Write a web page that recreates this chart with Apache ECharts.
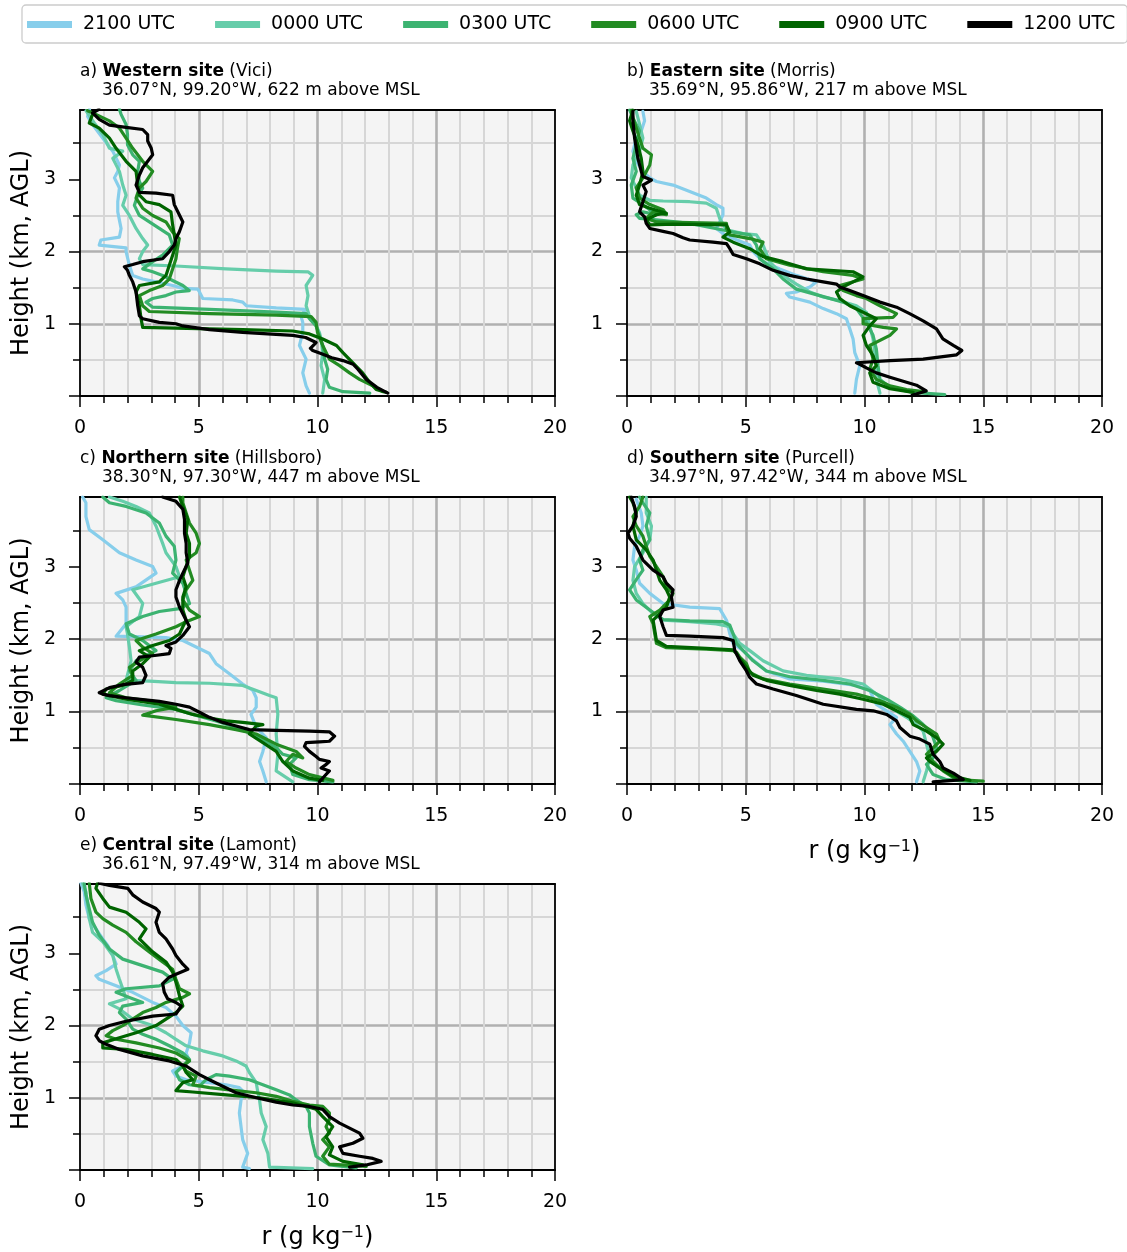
<!DOCTYPE html>
<html>
<head>
<meta charset="utf-8">
<title>Mixing ratio profiles</title>
<script src="https://cdn.jsdelivr.net/npm/echarts@6/dist/echarts.min.js"></script>
<style>
  html, body { margin: 0; padding: 0; background: #fff; }
  #chart { width: 1127px; height: 1252px; }
</style>
</head>
<body>
<div id="chart"></div>
<script>
const FONT = 'DejaVu Sans';

const times = ['2100 UTC', '0000 UTC', '0300 UTC', '0600 UTC', '0900 UTC', '1200 UTC'];
const timeColors = ['#87ceeb', '#66cdaa', '#3cb371', '#228b22', '#006400', '#000000'];

const panelLetters = ['a)', 'b)', 'c)', 'd)', 'e)'];
const siteNames = ['Western site', 'Eastern site', 'Northern site', 'Southern site', 'Central site'];
const siteTowns = ['Vici', 'Morris', 'Hillsboro', 'Purcell', 'Lamont'];
const siteInfo = [
  '36.07°N, 99.20°W, 622 m above MSL',
  '35.69°N, 95.86°W, 217 m above MSL',
  '38.30°N, 97.30°W, 447 m above MSL',
  '34.97°N, 97.42°W, 344 m above MSL',
  '36.61°N, 97.49°W, 314 m above MSL'
];

const rMin = 0, rMax = 20, rStep = 5;
const hMin = 0, hMax = 3.96, hStep = 1;
const hLabels = [1, 2, 3];

// profiles: [r (g/kg), height (km AGL)]
const vici2100 = [[9.66,0.04],[9.52,0.14],[9.38,0.32],[9.52,0.51],[9.24,0.7],[9.38,0.88],[9.38,1.02],[9.3,1.11],[9.5,1.2],[8.26,1.22],[7.0,1.25],[6.85,1.3],[6.43,1.33],[5.17,1.35],[5.03,1.44],[4.96,1.48],[4.33,1.49],[3.9,1.53],[3.2,1.58],[2.64,1.62],[2.22,1.67],[2.08,1.81],[1.94,2.0],[1.94,2.05],[0.81,2.09],[0.88,2.16],[1.66,2.2],[1.73,2.32],[1.59,2.55],[1.59,2.69],[1.66,2.88],[1.45,3.02],[1.59,3.11],[1.66,3.2],[1.38,3.39],[0.96,3.57],[0.53,3.76],[0.32,3.87],[0.4,3.97]];
const vici0000 = [[10.22,0.04],[10.3,0.23],[10.15,0.42],[10.22,0.6],[10.15,0.79],[10.08,0.88],[9.87,1.02],[9.66,1.11],[9.52,1.25],[9.6,1.39],[9.52,1.53],[9.8,1.67],[9.6,1.72],[8.26,1.73],[6.15,1.76],[4.04,1.8],[2.64,1.82],[2.5,1.9],[2.64,2.0],[2.85,2.09],[2.64,2.18],[2.36,2.32],[2.08,2.5],[1.8,2.64],[1.94,2.78],[1.8,2.92],[1.66,3.11],[1.38,3.29],[1.8,3.39],[1.24,3.43],[0.96,3.62],[0.6,3.78],[0.25,3.95]];
const vici0300 = [[12.2,0.04],[11.07,0.06],[10.5,0.12],[10.36,0.23],[10.43,0.37],[10.3,0.51],[10.22,0.7],[10.08,0.84],[9.94,0.97],[9.66,1.07],[9.52,1.14],[8.26,1.16],[5.45,1.2],[3.06,1.23],[2.78,1.3],[3.06,1.35],[3.62,1.39],[4.04,1.44],[4.6,1.46],[4.33,1.53],[3.9,1.6],[3.48,1.67],[3.06,1.72],[2.64,1.76],[3.06,1.86],[3.48,1.95],[3.9,2.09],[3.76,2.23],[3.34,2.32],[2.92,2.41],[2.5,2.5],[2.29,2.64],[2.43,2.78],[2.64,2.88],[2.5,2.97],[2.43,3.11],[2.5,3.25],[2.22,3.34],[2.0,3.48],[2.0,3.62],[1.94,3.76],[1.73,3.9],[1.66,3.97]];
const vici0600 = [[12.75,0.06],[12.33,0.14],[11.77,0.23],[11.35,0.32],[10.93,0.42],[10.5,0.51],[10.22,0.7],[10.0,0.88],[9.94,1.02],[9.73,1.1],[8.26,1.12],[5.45,1.14],[2.92,1.17],[2.64,1.25],[2.5,1.39],[2.92,1.46],[3.48,1.53],[3.76,1.62],[3.9,1.76],[4.04,1.9],[4.1,2.04],[4.18,2.18],[3.9,2.27],[3.62,2.41],[3.06,2.5],[2.64,2.6],[2.36,2.74],[2.5,2.88],[2.78,2.97],[3.06,3.11],[2.64,3.25],[2.22,3.43],[1.94,3.57],[1.66,3.71],[1.24,3.81],[0.67,3.9],[0.32,3.95]];
const vici0900 = [[12.9,0.05],[12.47,0.09],[12.19,0.19],[11.9,0.32],[11.49,0.46],[11.07,0.6],[10.8,0.7],[10.22,0.79],[9.66,0.86],[8.96,0.9],[6.85,0.92],[4.04,0.94],[2.64,0.95],[2.57,1.07],[2.5,1.25],[2.36,1.44],[2.5,1.53],[3.34,1.58],[3.62,1.67],[3.76,1.81],[3.9,1.95],[4.04,2.09],[3.97,2.23],[3.9,2.37],[3.83,2.55],[3.34,2.65],[2.78,2.69],[2.5,2.78],[2.43,2.92],[2.36,3.11],[1.94,3.25],[1.52,3.43],[1.24,3.57],[0.81,3.71],[0.39,3.78],[0.53,3.9]];
const vici1200 = [[12.96,0.04],[12.5,0.12],[12.05,0.23],[11.7,0.37],[11.5,0.44],[11.07,0.49],[10.6,0.53],[10.2,0.58],[9.8,0.63],[9.7,0.66],[9.94,0.74],[9.5,0.81],[8.96,0.84],[6.85,0.88],[5.45,0.92],[4.33,0.97],[4.04,1.0],[3.34,1.02],[2.64,1.07],[2.5,1.11],[2.43,1.25],[2.36,1.44],[2.22,1.58],[2.08,1.67],[2.0,1.74],[1.87,1.79],[2.22,1.82],[2.64,1.86],[3.48,1.9],[3.76,2.0],[3.97,2.09],[4.04,2.18],[4.18,2.27],[4.33,2.41],[4.18,2.51],[3.97,2.65],[3.9,2.78],[3.2,2.81],[2.5,2.82],[2.36,2.92],[2.5,3.06],[2.64,3.16],[2.85,3.25],[3.06,3.34],[3.0,3.43],[2.85,3.53],[2.85,3.62],[2.64,3.69],[1.94,3.72],[1.24,3.75],[0.81,3.83],[0.53,3.92],[0.8,3.97]];

const morris2100 = [[9.59,0.04],[9.66,0.23],[9.8,0.42],[9.59,0.6],[9.52,0.79],[9.38,0.93],[9.24,1.07],[8.82,1.14],[8.26,1.21],[7.7,1.3],[6.85,1.37],[6.71,1.42],[7.13,1.44],[7.7,1.51],[7.97,1.58],[7.13,1.67],[6.43,1.76],[5.73,1.86],[5.31,2.0],[5.17,2.09],[4.47,2.18],[4.04,2.25],[3.76,2.32],[3.9,2.41],[4.04,2.51],[4.04,2.6],[3.76,2.65],[3.34,2.74],[2.64,2.83],[1.94,2.92],[1.24,2.97],[0.96,3.02],[0.67,3.11],[0.39,3.25],[0.25,3.39],[0.39,3.57],[0.6,3.67],[0.74,3.81],[0.67,3.94]];
const morris0000 = [[10.65,0.04],[10.5,0.23],[10.5,0.42],[10.43,0.6],[10.36,0.79],[10.22,0.97],[10.08,1.16],[9.66,1.25],[8.96,1.32],[8.26,1.37],[7.7,1.44],[7.13,1.55],[6.57,1.67],[6.0,1.86],[5.73,2.09],[5.45,2.23],[4.89,2.25],[4.19,2.3],[3.9,2.46],[3.76,2.6],[3.34,2.67],[2.64,2.69],[1.52,2.7],[0.96,2.71],[0.53,2.78],[0.39,2.88],[0.18,3.02],[0.25,3.2],[0.53,3.39],[0.67,3.57],[0.53,3.76],[0.39,3.94]];
const morris0300 = [[13.38,0.02],[12.05,0.05],[11.07,0.12],[10.65,0.23],[10.57,0.42],[10.5,0.65],[10.36,0.84],[10.08,1.02],[9.66,1.21],[9.1,1.3],[8.12,1.39],[7.13,1.48],[6.57,1.62],[6.15,1.76],[5.59,1.9],[5.45,2.09],[5.17,2.23],[4.47,2.27],[2.64,2.39],[1.24,2.44],[0.53,2.46],[0.39,2.51],[0.67,2.55],[1.24,2.51],[0.67,2.65],[0.25,2.74],[0.18,2.92],[0.39,3.11],[0.25,3.29],[0.39,3.48],[0.53,3.67],[0.25,3.85],[0.11,3.96]];
const morris0600 = [[12.47,0.06],[11.77,0.09],[11.07,0.14],[10.5,0.23],[10.22,0.37],[10.36,0.51],[10.22,0.7],[11.07,0.84],[11.35,0.93],[10.79,0.95],[9.94,1.0],[9.94,1.07],[11.21,1.09],[11.35,1.14],[10.65,1.25],[10.08,1.35],[9.66,1.39],[9.1,1.46],[8.96,1.53],[9.94,1.62],[9.52,1.67],[8.26,1.72],[6.85,1.81],[5.87,1.9],[5.59,2.04],[5.73,2.13],[5.17,2.18],[4.33,2.23],[4.19,2.32],[4.19,2.39],[2.64,2.4],[1.24,2.41],[0.81,2.46],[1.1,2.55],[1.66,2.51],[1.52,2.58],[0.96,2.65],[0.53,2.74],[0.39,2.88],[0.67,3.02],[0.96,3.2],[1.03,3.34],[0.67,3.43],[0.53,3.57],[0.39,3.71],[0.25,3.85],[0.18,3.96]];
const morris0900 = [[12.05,0.05],[11.07,0.1],[10.36,0.19],[10.22,0.32],[10.5,0.42],[10.36,0.56],[10.08,0.7],[9.94,0.84],[10.22,0.97],[10.5,1.07],[9.94,1.16],[9.38,1.25],[8.96,1.35],[8.82,1.44],[9.1,1.51],[9.94,1.65],[9.52,1.72],[8.54,1.74],[7.56,1.76],[6.57,1.86],[5.73,1.93],[5.17,2.04],[4.47,2.13],[4.04,2.2],[4.33,2.27],[4.19,2.37],[1.94,2.38],[0.96,2.37],[0.81,2.44],[1.24,2.51],[1.66,2.53],[0.96,2.6],[0.53,2.65],[0.39,2.78],[0.53,2.92],[0.67,3.11],[0.6,3.29],[0.46,3.48],[0.25,3.67],[0.11,3.81],[0.25,3.96]];
const morris1200 = [[12.0,0.01],[12.6,0.07],[12.19,0.15],[11.77,0.19],[11.07,0.26],[10.5,0.32],[10.08,0.39],[9.8,0.44],[9.66,0.46],[11.07,0.49],[12.47,0.51],[13.88,0.57],[14.1,0.63],[13.74,0.7],[13.3,0.79],[13.03,0.93],[12.47,1.04],[11.9,1.14],[11.35,1.23],[10.65,1.3],[9.94,1.39],[9.38,1.46],[8.96,1.51],[8.82,1.55],[8.26,1.58],[7.56,1.62],[6.85,1.67],[6.15,1.74],[5.59,1.83],[5.03,1.9],[4.47,1.96],[4.33,2.04],[4.19,2.11],[3.62,2.13],[2.64,2.16],[2.36,2.19],[1.94,2.25],[1.52,2.28],[0.96,2.32],[0.81,2.39],[0.74,2.48],[0.53,2.55],[0.67,2.69],[0.81,2.83],[0.67,2.92],[1.03,2.99],[0.67,3.04],[0.6,3.11],[0.46,3.29],[0.32,3.57],[0.25,3.81],[0.25,3.94]];

const hills2100 = [[7.84,0.03],[7.7,0.18],[7.56,0.31],[7.7,0.45],[7.84,0.64],[7.42,0.78],[7.2,0.96],[7.42,1.06],[7.42,1.19],[7.28,1.29],[6.85,1.38],[6.29,1.52],[5.73,1.66],[5.45,1.8],[4.89,1.89],[4.33,1.98],[3.62,2.02],[2.64,2.03],[1.52,2.04],[1.94,2.21],[1.94,2.44],[1.8,2.54],[1.52,2.63],[2.36,2.72],[3.2,2.91],[3.06,3.0],[2.36,3.09],[1.66,3.19],[0.96,3.37],[0.39,3.51],[0.25,3.69],[0.25,3.88],[0.11,3.96]];
const hills0000 = [[8.96,0.03],[8.26,0.18],[8.33,0.41],[8.26,0.69],[8.33,0.96],[8.26,1.19],[7.98,1.22],[7.42,1.29],[6.85,1.36],[5.45,1.39],[4.04,1.4],[2.92,1.42],[1.94,1.43],[2.15,1.7],[2.08,1.89],[2.0,2.07],[1.94,2.17],[2.5,2.31],[2.64,2.49],[2.22,2.68],[3.2,2.77],[4.19,2.86],[4.04,3.0],[3.62,3.19],[3.48,3.32],[3.2,3.56],[2.92,3.74],[2.36,3.83],[1.8,3.9],[1.24,3.96]];
const hills0300 = [[10.65,0.03],[9.66,0.06],[8.96,0.13],[8.82,0.27],[9.1,0.36],[8.54,0.41],[8.26,0.5],[7.84,0.59],[7.28,0.69],[6.57,0.78],[5.73,0.87],[4.75,0.96],[4.04,1.03],[2.64,1.09],[1.52,1.15],[1.1,1.19],[1.66,1.29],[2.36,1.43],[2.08,1.56],[2.36,1.7],[3.2,1.84],[2.64,1.98],[2.08,2.07],[1.94,2.21],[2.64,2.31],[3.34,2.38],[4.19,2.42],[4.61,2.49],[4.47,2.63],[4.33,2.77],[3.9,2.91],[4.04,3.09],[3.97,3.28],[3.62,3.42],[3.34,3.6],[2.78,3.74],[1.94,3.83],[1.24,3.88],[0.96,3.96]];
const hills0600 = [[10.65,0.05],[9.66,0.13],[9.1,0.22],[8.68,0.31],[8.96,0.41],[9.38,0.36],[9.1,0.45],[8.26,0.55],[7.42,0.69],[6.57,0.75],[5.45,0.82],[4.04,0.89],[2.64,0.95],[3.2,1.01],[4.04,1.06],[3.34,1.13],[1.94,1.19],[1.24,1.26],[1.66,1.38],[2.22,1.5],[2.08,1.61],[2.5,1.7],[3.06,1.8],[2.64,1.89],[2.36,1.98],[3.2,2.07],[4.04,2.17],[4.47,2.24],[5.03,2.31],[4.61,2.4],[4.33,2.54],[4.47,2.68],[4.75,2.81],[4.61,2.95],[4.47,3.09],[4.89,3.19],[5.03,3.32],[4.89,3.46],[4.61,3.6],[4.47,3.74],[4.33,3.88],[4.33,3.96]];
const hills0900 = [[10.22,0.05],[9.66,0.08],[8.96,0.18],[8.54,0.31],[8.26,0.45],[7.7,0.57],[7.13,0.69],[7.42,0.8],[7.7,0.82],[6.85,0.85],[6.15,0.87],[5.45,0.91],[4.75,0.96],[4.04,1.03],[3.34,1.1],[1.94,1.17],[0.96,1.24],[1.1,1.31],[1.8,1.36],[2.22,1.43],[2.22,1.56],[2.64,1.66],[2.92,1.75],[2.5,1.84],[3.06,1.91],[3.76,1.98],[4.19,2.07],[4.33,2.17],[4.47,2.26],[4.33,2.4],[4.33,2.58],[4.47,2.72],[4.33,2.86],[4.47,3.0],[4.61,3.14],[4.61,3.32],[4.47,3.46],[4.54,3.65],[4.33,3.83],[4.19,3.96]];
const hills1200 = [[10.08,0.03],[10.3,0.11],[10.5,0.18],[10.15,0.22],[10.37,0.27],[10.5,0.31],[10.08,0.34],[9.94,0.38],[9.66,0.45],[9.45,0.52],[9.52,0.57],[10.08,0.58],[10.5,0.59],[10.72,0.66],[10.5,0.72],[9.66,0.73],[8.26,0.74],[7.13,0.75],[6.57,0.8],[6.01,0.85],[5.45,0.92],[5.03,0.99],[4.61,1.06],[4.04,1.1],[3.34,1.14],[1.94,1.19],[1.24,1.22],[0.96,1.24],[0.81,1.26],[1.24,1.33],[1.8,1.37],[2.64,1.4],[2.78,1.5],[2.64,1.61],[2.36,1.68],[2.5,1.75],[3.06,1.77],[3.76,1.8],[3.83,1.87],[3.62,1.91],[4.04,1.96],[4.33,2.05],[4.61,2.17],[4.47,2.26],[4.33,2.35],[4.19,2.44],[4.04,2.58],[4.04,2.68],[4.19,2.81],[4.33,2.91],[4.54,3.05],[4.47,3.19],[4.47,3.32],[4.4,3.46],[4.4,3.65],[4.33,3.79],[4.04,3.9],[3.48,3.96]];

const purcell2100 = [[12.19,0.03],[12.33,0.18],[12.19,0.31],[11.91,0.45],[11.63,0.59],[11.35,0.69],[11.07,0.82],[11.35,0.92],[10.93,1.01],[10.5,1.1],[10.22,1.29],[9.66,1.36],[8.26,1.42],[6.85,1.45],[5.87,1.56],[5.17,1.75],[4.89,1.84],[4.47,1.94],[4.33,2.07],[4.19,2.26],[3.9,2.42],[2.64,2.44],[1.52,2.49],[0.96,2.63],[0.53,2.77],[0.39,2.95],[0.25,3.09],[0.32,3.28],[0.53,3.42],[0.67,3.56],[0.6,3.74],[0.39,3.93]];
const purcell0000 = [[12.47,0.03],[12.61,0.18],[12.75,0.36],[12.61,0.55],[12.47,0.73],[12.19,0.82],[11.77,0.92],[11.07,1.06],[10.5,1.24],[9.94,1.38],[8.96,1.45],[7.56,1.5],[6.57,1.56],[5.73,1.7],[5.17,1.84],[4.75,1.94],[4.47,2.07],[4.33,2.17],[3.76,2.21],[2.64,2.24],[1.52,2.26],[1.1,2.35],[0.67,2.49],[0.39,2.63],[0.25,2.81],[0.32,3.0],[0.67,3.19],[0.96,3.37],[1.03,3.56],[0.81,3.74],[0.81,3.96]];
const purcell0300 = [[14.72,0.03],[13.46,0.06],[12.89,0.13],[12.61,0.27],[12.89,0.36],[13.03,0.5],[12.89,0.64],[12.75,0.73],[12.47,0.82],[12.05,0.94],[11.49,1.06],[10.93,1.17],[10.22,1.29],[9.38,1.38],[8.26,1.43],[6.85,1.48],[5.87,1.56],[5.31,1.7],[4.89,1.84],[4.61,1.94],[4.47,2.07],[4.33,2.19],[4.04,2.24],[2.64,2.25],[1.52,2.27],[0.96,2.4],[0.39,2.54],[0.11,2.68],[0.39,2.82],[0.67,2.95],[0.53,3.09],[0.67,3.23],[0.96,3.37],[0.81,3.56],[0.96,3.74],[0.67,3.88],[0.53,3.96]];
const purcell0600 = [[15.0,0.04],[13.88,0.06],[13.31,0.18],[12.89,0.31],[12.61,0.41],[12.89,0.5],[13.17,0.59],[13.03,0.69],[12.61,0.78],[12.19,0.87],[11.91,0.96],[11.35,1.06],[10.65,1.15],[9.66,1.24],[8.26,1.31],[6.85,1.38],[5.73,1.45],[5.17,1.54],[5.03,1.66],[4.75,1.75],[4.61,1.82],[4.47,1.84],[3.34,1.86],[1.66,1.88],[1.24,1.94],[1.17,2.07],[1.1,2.21],[0.96,2.31],[1.38,2.4],[1.8,2.54],[1.94,2.63],[1.66,2.72],[1.52,2.86],[1.24,3.0],[0.96,3.14],[0.81,3.28],[0.67,3.42],[0.39,3.56],[0.25,3.69],[0.53,3.83],[0.67,3.96]];
const purcell0900 = [[14.44,0.05],[13.74,0.11],[13.17,0.22],[12.75,0.31],[12.61,0.36],[13.03,0.45],[13.31,0.55],[13.03,0.64],[12.61,0.73],[12.05,0.82],[11.91,0.92],[11.35,1.01],[10.79,1.1],[9.94,1.17],[8.96,1.24],[7.98,1.29],[6.85,1.36],[5.87,1.43],[5.31,1.5],[5.03,1.61],[4.75,1.73],[4.61,1.8],[4.47,1.85],[3.34,1.87],[1.66,1.9],[1.24,1.98],[1.17,2.12],[1.1,2.26],[1.38,2.35],[1.66,2.44],[1.8,2.58],[1.66,2.68],[1.38,2.81],[1.24,2.95],[1.1,3.09],[0.81,3.23],[0.39,3.37],[0.25,3.56],[0.39,3.74],[0.25,3.88],[0.11,3.96]];
const purcell1200 = [[12.89,0.03],[14.16,0.06],[13.74,0.15],[13.31,0.22],[13.17,0.31],[12.89,0.41],[12.75,0.55],[12.33,0.62],[11.91,0.66],[11.49,0.78],[11.35,0.87],[10.93,0.96],[10.37,1.01],[9.66,1.03],[8.26,1.1],[7.13,1.22],[6.15,1.31],[5.45,1.38],[5.17,1.47],[5.03,1.56],[4.75,1.7],[4.54,1.84],[4.47,1.98],[4.04,2.02],[2.64,2.04],[1.66,2.05],[1.52,2.17],[1.38,2.31],[1.52,2.4],[1.94,2.44],[1.87,2.58],[1.94,2.68],[1.66,2.77],[1.52,2.86],[1.1,2.95],[0.67,3.09],[0.39,3.28],[0.11,3.39],[0.04,3.46],[0.25,3.56],[0.39,3.69],[0.32,3.83],[0.18,3.96]];

const lamont2100 = [[7.13,0.02],[6.85,0.04],[7.06,0.23],[6.85,0.42],[6.78,0.6],[6.71,0.79],[6.78,0.97],[6.92,1.07],[6.71,1.14],[6.15,1.18],[5.17,1.22],[4.47,1.25],[4.04,1.3],[3.9,1.37],[4.33,1.44],[4.61,1.51],[4.47,1.62],[4.61,1.76],[4.68,1.9],[4.33,2.0],[4.04,2.13],[3.62,2.25],[3.06,2.32],[2.64,2.39],[2.22,2.46],[1.52,2.55],[0.81,2.64],[0.67,2.69],[1.1,2.76],[1.52,2.85],[1.38,2.97],[1.17,3.11],[0.96,3.2],[0.67,3.34],[0.39,3.48],[0.25,3.67],[0.18,3.85],[0.04,3.97]];
const lamont0000 = [[9.8,0.02],[7.98,0.04],[7.91,0.23],[7.7,0.42],[7.84,0.6],[7.63,0.79],[7.56,0.97],[7.49,1.07],[7.42,1.21],[7.13,1.35],[6.99,1.44],[6.57,1.51],[6.01,1.58],[5.17,1.65],[4.47,1.72],[4.04,1.81],[3.62,1.9],[3.06,2.0],[2.22,2.09],[1.66,2.23],[1.24,2.3],[1.94,2.37],[1.8,2.51],[1.66,2.64],[1.52,2.78],[1.38,2.97],[0.96,3.16],[0.53,3.29],[0.39,3.48],[0.32,3.67],[0.25,3.85],[0.11,3.97]];
const lamont0300 = [[11.63,0.03],[10.5,0.07],[9.94,0.19],[9.8,0.37],[9.66,0.6],[9.66,0.79],[9.52,0.88],[9.1,0.97],[8.82,1.04],[8.26,1.11],[7.7,1.18],[7.13,1.25],[6.29,1.3],[5.73,1.32],[5.31,1.25],[5.03,1.16],[4.61,1.18],[4.19,1.25],[4.04,1.35],[4.33,1.44],[4.61,1.53],[4.33,1.62],[3.76,1.72],[3.2,1.81],[2.64,1.88],[2.22,1.95],[1.94,2.09],[1.66,2.18],[1.8,2.27],[2.64,2.32],[2.08,2.39],[1.52,2.46],[1.94,2.51],[3.34,2.55],[3.9,2.64],[3.48,2.74],[2.64,2.83],[1.8,2.92],[1.24,3.06],[0.81,3.25],[0.53,3.43],[0.39,3.62],[0.25,3.81],[0.18,3.97]];
const lamont0600 = [[12.05,0.05],[10.5,0.08],[10.22,0.19],[10.5,0.32],[10.22,0.42],[10.5,0.51],[10.36,0.6],[10.5,0.7],[10.5,0.79],[10.22,0.88],[9.66,0.9],[8.96,0.95],[8.26,1.02],[7.42,1.07],[6.29,1.11],[5.45,1.14],[4.75,1.18],[4.89,1.3],[4.47,1.37],[4.33,1.44],[4.61,1.51],[4.04,1.62],[3.34,1.69],[2.36,1.76],[1.52,1.81],[1.1,1.86],[1.38,1.93],[1.8,2.0],[2.22,2.09],[2.64,2.18],[3.2,2.25],[3.62,2.32],[4.33,2.39],[4.61,2.44],[4.19,2.51],[4.04,2.64],[3.9,2.78],[3.48,2.88],[2.92,3.02],[2.36,3.16],[1.94,3.29],[1.38,3.39],[0.96,3.48],[0.67,3.57],[0.46,3.76],[0.39,3.97]];
const lamont0900 = [[11.91,0.07],[11.07,0.12],[10.5,0.21],[10.64,0.32],[10.36,0.46],[10.64,0.6],[10.22,0.74],[9.94,0.84],[8.96,0.93],[7.56,1.0],[6.15,1.04],[4.75,1.08],[4.04,1.1],[4.33,1.21],[4.75,1.25],[4.47,1.35],[4.33,1.44],[4.04,1.53],[3.06,1.6],[1.94,1.67],[0.96,1.69],[0.96,1.76],[1.66,1.83],[2.36,1.9],[3.2,2.0],[3.62,2.09],[4.04,2.18],[4.33,2.27],[4.19,2.41],[4.04,2.6],[3.9,2.74],[3.62,2.88],[3.06,3.02],[2.5,3.2],[2.78,3.34],[2.5,3.43],[1.94,3.57],[1.24,3.64],[0.96,3.76],[0.67,3.9],[0.74,3.97]];
const lamont1200 = [[11.35,0.04],[12.05,0.07],[12.68,0.12],[12.33,0.16],[11.77,0.19],[11.07,0.23],[10.93,0.32],[11.49,0.37],[11.91,0.44],[11.77,0.51],[11.35,0.58],[10.93,0.65],[10.5,0.74],[10.22,0.84],[9.66,0.88],[8.96,0.9],[8.26,0.94],[7.42,1.0],[6.57,1.07],[6.01,1.16],[5.45,1.25],[5.03,1.32],[4.47,1.44],[3.76,1.51],[2.64,1.58],[1.66,1.67],[1.1,1.74],[0.81,1.79],[0.67,1.86],[0.81,1.95],[1.24,2.0],[1.94,2.06],[3.06,2.13],[4.04,2.16],[4.26,2.27],[4.04,2.32],[3.69,2.37],[3.55,2.46],[3.48,2.58],[3.76,2.67],[4.04,2.71],[4.54,2.78],[4.33,2.85],[4.04,2.97],[3.9,3.06],[3.62,3.2],[3.34,3.29],[3.2,3.43],[3.34,3.57],[3.2,3.62],[2.64,3.71],[2.22,3.81],[2.01,3.9],[1.24,3.94],[0.81,3.97]];

const profiles = [
  [vici2100, vici0000, vici0300, vici0600, vici0900, vici1200],
  [morris2100, morris0000, morris0300, morris0600, morris0900, morris1200],
  [hills2100, hills0000, hills0300, hills0600, hills0900, hills1200],
  [purcell2100, purcell0000, purcell0300, purcell0600, purcell0900, purcell1200],
  [lamont2100, lamont0000, lamont0300, lamont0600, lamont0900, lamont1200]
];

// plot areas in pixels
const panelBoxes = [
  { left: 80, top: 110, width: 475, height: 286 },
  { left: 627, top: 110, width: 475, height: 286 },
  { left: 80, top: 497, width: 475, height: 287 },
  { left: 627, top: 497, width: 475, height: 287 },
  { left: 80, top: 884, width: 475, height: 286 }
];
const panelsWithYName = [0, 2, 4];
const panelsWithXName = [3, 4];

const chart = echarts.init(document.getElementById('chart'), null, { renderer: 'canvas' });

const grids = [];
const xAxes = [];
const yAxes = [];
const series = [];
const titles = [];

const majorGrid = { color: '#b0b0b0', width: 2.6 };
const minorGrid = { color: '#d6d6d6', width: 2 };
const tickLine = { color: '#000', width: 1.5 };
const labelStyle = { fontFamily: FONT, fontSize: 19, color: '#000' };
const nameStyle = {
  fontFamily: FONT, fontSize: 24, color: '#000',
  rich: {
    sup: { fontFamily: FONT, fontSize: 16, color: '#000', verticalAlign: 'top', padding: [0, 0, 10, 0] }
  }
};

panelBoxes.forEach((box, i) => {
  grids.push({
    left: box.left, top: box.top, width: box.width, height: box.height,
    show: true, backgroundColor: '#f4f4f4', borderWidth: 0
  });

  xAxes.push({
    type: 'value', gridIndex: i, position: 'bottom',
    min: rMin, max: rMax, interval: rStep,
    axisLine: { show: true, onZero: false, lineStyle: { color: '#000', width: 1.8 } },
    axisTick: { show: true, length: 11, lineStyle: tickLine },
    minorTick: { show: true, splitNumber: 5, length: 7, lineStyle: tickLine },
    axisLabel: Object.assign({ margin: 23 }, labelStyle),
    splitLine: { show: true, showMinLine: false, showMaxLine: false, lineStyle: majorGrid },
    minorSplitLine: { show: true, lineStyle: minorGrid },
    name: panelsWithXName.includes(i) ? 'r (g kg{sup|−1})' : '',
    nameLocation: 'middle', nameGap: 55, nameTextStyle: nameStyle
  });
  xAxes.push({
    type: 'value', gridIndex: i, position: 'top', min: rMin, max: rMax,
    axisLine: { show: true, onZero: false, lineStyle: { color: '#000', width: 1.8 } },
    axisTick: { show: false }, axisLabel: { show: false }, splitLine: { show: false }
  });

  yAxes.push({
    type: 'value', gridIndex: i, position: 'left',
    min: hMin, max: hMax, interval: hStep,
    axisLine: { show: true, onZero: false, lineStyle: { color: '#000', width: 1.8 } },
    axisTick: { show: true, length: 11, lineStyle: tickLine, customValues: [0, 1, 2, 3] },
    minorTick: { show: true, splitNumber: 2, length: 7, lineStyle: tickLine },
    axisLabel: Object.assign({
      margin: 24,
      customValues: hLabels,
      formatter: (v) => (hLabels.includes(v) ? String(v) : '')
    }, labelStyle),
    splitLine: { show: true, showMinLine: false, showMaxLine: false, lineStyle: majorGrid },
    minorSplitLine: { show: true, lineStyle: minorGrid },
    name: panelsWithYName.includes(i) ? 'Height (km, AGL)' : '',
    nameLocation: 'middle', nameGap: 46, nameTextStyle: nameStyle
  });
  yAxes.push({
    type: 'value', gridIndex: i, position: 'right', min: hMin, max: hMax,
    axisLine: { show: true, onZero: false, lineStyle: { color: '#000', width: 1.8 } },
    axisTick: { show: false }, axisLabel: { show: false }, splitLine: { show: false }
  });

  profiles[i].forEach((profile, k) => {
    series.push({
      name: times[k],
      type: 'line',
      xAxisIndex: i * 2,
      yAxisIndex: i * 2,
      data: profile,
      showSymbol: false,
      symbol: 'none',
      clip: true,
      z: 3 + k,
      lineStyle: { color: timeColors[k], width: 3.2, join: 'round', cap: 'round' },
      itemStyle: { color: timeColors[k] },
      emphasis: { disabled: true }
    });
  });

  titles.push({
    left: box.left, top: box.top - 47, padding: 0,
    text: `{n|${panelLetters[i]} }{b|${siteNames[i]}}{n| (${siteTowns[i]})}`,
    textStyle: {
      rich: {
        n: { fontFamily: FONT, fontSize: 17, fontWeight: 'normal', color: '#000' },
        b: { fontFamily: FONT, fontSize: 17, fontWeight: 'bold', color: '#000' }
      }
    }
  });
  titles.push({
    left: box.left + 22, top: box.top - 28, padding: 0,
    text: siteInfo[i],
    textStyle: { fontFamily: FONT, fontSize: 17, fontWeight: 'normal', color: '#000' }
  });
});

chart.setOption({
  animation: false,
  backgroundColor: '#ffffff',
  title: titles,
  legend: {
    data: times,
    left: 22, top: 5, width: 1250,
    orient: 'horizontal',
    icon: 'rect',
    itemWidth: 45, itemHeight: 7, itemGap: 40,
    padding: [10, 12, 9, 5],
    backgroundColor: '#ffffff',
    borderColor: '#cccccc', borderWidth: 1.3, borderRadius: 4,
    selectedMode: false,
    textStyle: { fontFamily: FONT, fontSize: 19, color: '#000', padding: [0, 0, 0, 6] }
  },
  grid: grids,
  xAxis: xAxes,
  yAxis: yAxes,
  series: series
});
</script>
</body>
</html>
